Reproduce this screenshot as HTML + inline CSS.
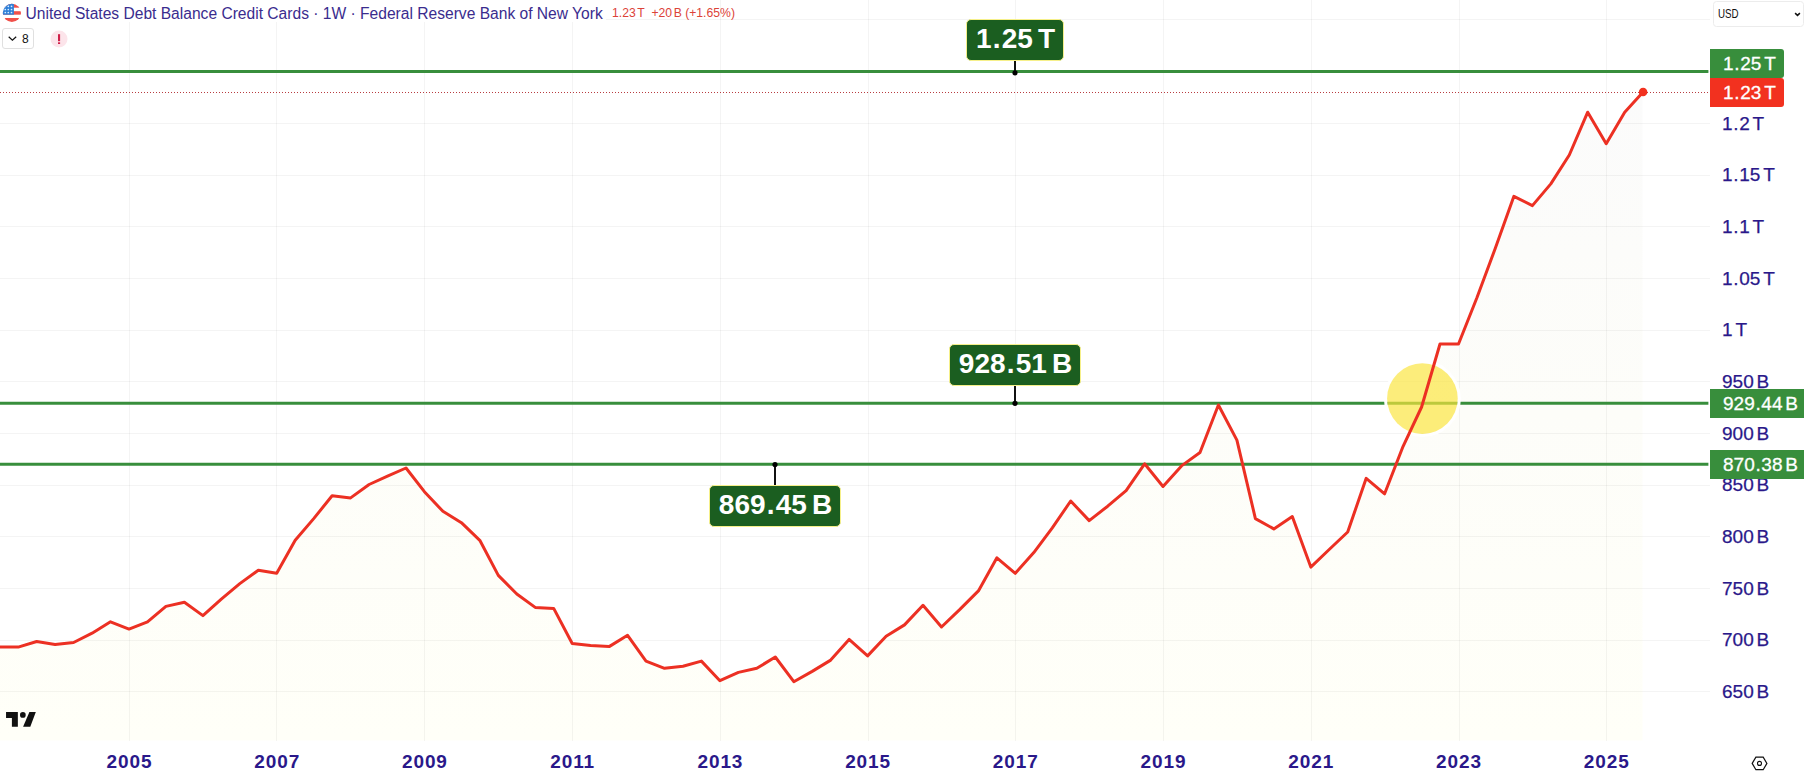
<!DOCTYPE html>
<html><head><meta charset="utf-8"><title>chart</title>
<style>
html,body{margin:0;padding:0;background:#fff;}
body{width:1804px;height:779px;position:relative;overflow:hidden;font-family:"Liberation Sans",sans-serif;}
#chart{position:absolute;left:0;top:0;}
.yl{position:absolute;left:1722px;height:22px;line-height:22px;font-size:19px;-webkit-text-stroke:0.25px #2a188a;color:#2a188a;white-space:nowrap;}
.xl{position:absolute;top:750.8px;width:80px;text-align:center;height:22px;line-height:22px;font-size:19px;font-weight:bold;color:#2a188a;letter-spacing:0.9px;}
.pl{position:absolute;left:1710px;color:#fff;font-size:19px;-webkit-text-stroke:0.3px #fff;white-space:nowrap;box-sizing:border-box;padding-left:13px;}
.tag{position:absolute;background:#1b5e20;border:1.2px solid #f6f08a;border-radius:5px;color:#fff;font-weight:bold;font-size:28px;line-height:38.7px;text-align:center;padding-left:1px;box-sizing:border-box;white-space:nowrap;}
#title{position:absolute;left:25.5px;top:4px;height:20px;line-height:20px;font-size:15.6px;color:#3a2c8e;white-space:nowrap;}
#vals{position:absolute;left:612px;top:4px;height:18px;line-height:18px;font-size:12.2px;color:#dc4238;white-space:nowrap;}
</style></head><body>
<svg id="chart" width="1804" height="779" viewBox="0 0 1804 779">
<defs>
<linearGradient id="ag" x1="0" y1="88" x2="0" y2="740" gradientUnits="userSpaceOnUse">
<stop offset="0" stop-color="#fbfbfb"/><stop offset="0.5" stop-color="#fdfdf9"/><stop offset="1" stop-color="#fffff8"/>
</linearGradient>
<clipPath id="flagc"><circle cx="11.9" cy="12.9" r="9.1"/></clipPath>
</defs>
<path d="M-18.7,740.5 L-18.7,651.8 L-0.2,647.1 L18.2,647.1 L36.7,641.5 L55.1,644.6 L73.6,642.5 L92.1,633.2 L110.5,621.8 L129.0,629.1 L147.5,621.8 L165.9,606.4 L184.4,602.2 L202.9,615.6 L221.3,599.1 L239.8,583.6 L258.3,570.2 L276.7,573.3 L295.2,540.3 L313.7,518.6 L332.1,495.8 L350.6,497.9 L369.1,484.5 L387.5,476.2 L406.0,468.0 L424.4,491.7 L442.9,511.3 L461.4,522.7 L479.8,540.3 L498.3,575.4 L516.8,594.0 L535.2,607.4 L553.7,608.4 L572.2,643.5 L590.6,645.6 L609.1,646.6 L627.6,635.3 L646.0,661.1 L664.5,668.3 L683.0,666.3 L701.4,661.1 L719.9,680.7 L738.4,672.4 L756.8,668.3 L775.3,657.0 L793.8,681.7 L812.2,671.4 L830.7,660.1 L849.1,639.4 L867.6,655.9 L886.1,636.3 L904.5,624.9 L923.0,605.3 L941.5,627.0 L959.9,609.4 L978.4,590.9 L996.9,557.8 L1015.3,573.3 L1033.8,552.6 L1052.3,527.9 L1070.7,501.0 L1089.2,520.6 L1107.7,506.2 L1126.1,490.7 L1144.6,463.8 L1163.0,486.5 L1181.5,465.9 L1200.0,452.5 L1218.4,405.0 L1236.9,440.1 L1255.4,518.6 L1273.8,528.9 L1292.3,516.5 L1310.8,567.1 L1329.2,549.5 L1347.7,532.0 L1366.2,478.3 L1384.6,493.8 L1403.1,446.3 L1421.6,407.0 L1440.0,344.0 L1458.5,344.0 L1477.0,297.5 L1495.4,248.0 L1513.9,196.3 L1532.4,205.6 L1550.8,183.9 L1569.3,155.0 L1587.7,112.2 L1606.2,143.7 L1624.7,112.2 L1643.1,92.0 L1642.5,92.0 L1642.5,740.5 Z" fill="url(#ag)"/>
<g stroke="#000" stroke-opacity="0.045" stroke-width="1" shape-rendering="crispEdges"><line x1="0" x2="1710" y1="19.5" y2="19.5"/><line x1="0" x2="1710" y1="71.5" y2="71.5"/><line x1="0" x2="1710" y1="123.5" y2="123.5"/><line x1="0" x2="1710" y1="175.5" y2="175.5"/><line x1="0" x2="1710" y1="226.5" y2="226.5"/><line x1="0" x2="1710" y1="278.5" y2="278.5"/><line x1="0" x2="1710" y1="330.5" y2="330.5"/><line x1="0" x2="1710" y1="381.5" y2="381.5"/><line x1="0" x2="1710" y1="433.5" y2="433.5"/><line x1="0" x2="1710" y1="485.5" y2="485.5"/><line x1="0" x2="1710" y1="536.5" y2="536.5"/><line x1="0" x2="1710" y1="588.5" y2="588.5"/><line x1="0" x2="1710" y1="640.5" y2="640.5"/><line x1="0" x2="1710" y1="691.5" y2="691.5"/><line y1="0" y2="740.5" x1="129.5" x2="129.5"/><line y1="0" y2="740.5" x1="276.5" x2="276.5"/><line y1="0" y2="740.5" x1="424.5" x2="424.5"/><line y1="0" y2="740.5" x1="572.5" x2="572.5"/><line y1="0" y2="740.5" x1="720.5" x2="720.5"/><line y1="0" y2="740.5" x1="868.5" x2="868.5"/><line y1="0" y2="740.5" x1="1015.5" x2="1015.5"/><line y1="0" y2="740.5" x1="1163.5" x2="1163.5"/><line y1="0" y2="740.5" x1="1311.5" x2="1311.5"/><line y1="0" y2="740.5" x1="1459.5" x2="1459.5"/><line y1="0" y2="740.5" x1="1606.5" x2="1606.5"/></g>
<!-- horizontal green lines -->
<g stroke="#388e3c" stroke-width="3">
<line x1="0" x2="1708.4" y1="71.5" y2="71.5"/>
<line x1="0" x2="1708.4" y1="403.3" y2="403.3"/>
<line x1="0" x2="1708.4" y1="464.3" y2="464.3"/>
</g>
<!-- yellow circle -->
<circle cx="1422.4" cy="398.6" r="36.9" fill="none" stroke="#ffffff" stroke-width="3.2"/>
<circle cx="1422.4" cy="398.6" r="35.3" fill="#fbe43c" fill-opacity="0.68"/>
<!-- last price dotted line -->
<line x1="0" x2="1709" y1="92.5" y2="92.5" stroke="#b83c40" stroke-width="1" stroke-dasharray="1 2" shape-rendering="crispEdges"/>
<!-- series -->
<polyline points="-18.7,651.8 -0.2,647.1 18.2,647.1 36.7,641.5 55.1,644.6 73.6,642.5 92.1,633.2 110.5,621.8 129.0,629.1 147.5,621.8 165.9,606.4 184.4,602.2 202.9,615.6 221.3,599.1 239.8,583.6 258.3,570.2 276.7,573.3 295.2,540.3 313.7,518.6 332.1,495.8 350.6,497.9 369.1,484.5 387.5,476.2 406.0,468.0 424.4,491.7 442.9,511.3 461.4,522.7 479.8,540.3 498.3,575.4 516.8,594.0 535.2,607.4 553.7,608.4 572.2,643.5 590.6,645.6 609.1,646.6 627.6,635.3 646.0,661.1 664.5,668.3 683.0,666.3 701.4,661.1 719.9,680.7 738.4,672.4 756.8,668.3 775.3,657.0 793.8,681.7 812.2,671.4 830.7,660.1 849.1,639.4 867.6,655.9 886.1,636.3 904.5,624.9 923.0,605.3 941.5,627.0 959.9,609.4 978.4,590.9 996.9,557.8 1015.3,573.3 1033.8,552.6 1052.3,527.9 1070.7,501.0 1089.2,520.6 1107.7,506.2 1126.1,490.7 1144.6,463.8 1163.0,486.5 1181.5,465.9 1200.0,452.5 1218.4,405.0 1236.9,440.1 1255.4,518.6 1273.8,528.9 1292.3,516.5 1310.8,567.1 1329.2,549.5 1347.7,532.0 1366.2,478.3 1384.6,493.8 1403.1,446.3 1421.6,407.0 1440.0,344.0 1458.5,344.0 1477.0,297.5 1495.4,248.0 1513.9,196.3 1532.4,205.6 1550.8,183.9 1569.3,155.0 1587.7,112.2 1606.2,143.7 1624.7,112.2 1643.1,92.0" fill="none" stroke="#ec3023" stroke-width="3" stroke-linejoin="round" stroke-linecap="round"/>
<circle cx="1643.1" cy="92.0" r="4.3" fill="#f2311f"/>
<!-- callout stems -->
<g stroke="#111" stroke-width="2"><line x1="1015" x2="1015" y1="60" y2="72"/><line x1="1015" x2="1015" y1="385" y2="403"/><line x1="775" x2="775" y1="464" y2="486"/></g>
<g fill="#000"><circle cx="1015" cy="72.8" r="2.6"/><circle cx="1015" cy="403.3" r="2.6"/><circle cx="775" cy="464.6" r="2.6"/></g>
<rect x="0" y="0" width="606" height="22" fill="#fff"/>
<!-- flag -->
<g clip-path="url(#flagc)">
<rect x="2" y="3" width="20" height="20" fill="#fff"/>
<rect x="2" y="3" width="20" height="4.7" fill="#f0504a"/><rect x="2" y="11.2" width="20" height="3.5" fill="#f0504a"/>
<rect x="2" y="18" width="20" height="5" fill="#f0504a"/>
<rect x="2" y="3" width="11.9" height="11.7" fill="#2f80d8"/>
<g fill="#d9ecff"><circle cx="5.3" cy="6.3" r="0.85"/><circle cx="8.3" cy="6.3" r="0.85"/><circle cx="11.5" cy="6.3" r="0.85"/><circle cx="5.3" cy="9.5" r="0.85"/><circle cx="8.3" cy="9.5" r="0.85"/><circle cx="11.5" cy="9.5" r="0.85"/><circle cx="5.3" cy="12.5" r="0.85"/><circle cx="8.3" cy="12.5" r="0.85"/><circle cx="11.5" cy="12.5" r="0.85"/></g>
</g>
<!-- collapse box -->
<rect x="2.5" y="28.5" width="31" height="20" rx="2.5" fill="#fff" stroke="#e0e0e0"/>
<path d="M8.7 36.8 L12.4 40.2 L16.2 36.8" fill="none" stroke="#111" stroke-width="1.2"/>
<!-- warning -->
<circle cx="59" cy="39" r="8.5" fill="#fce4ea"/>
<rect x="58" y="34.2" width="2.1" height="7" fill="#cf2049"/><rect x="58" y="42.3" width="2.1" height="1.7" fill="#cf2049"/>
<!-- USD box -->
<rect x="1713.5" y="1.5" width="90" height="25" rx="3" fill="#fff" stroke="#ececec"/>
<path d="M1795.1 13.1 L1797.5 15.4 L1799.9 13.1" fill="none" stroke="#111" stroke-width="1.5"/>
<!-- TV logo -->
<g fill="#111"><path d="M6.05 712.1 H17.85 V726.8 H11.9 V717.9 H6.05Z"/><circle cx="22.85" cy="714.95" r="2.85"/><path d="M29.4 712.1 H35.8 L30.3 726.8 H23.1Z"/></g>
<!-- settings hex -->
<path d="M1752.2 763.4 L1755.9 757.1 H1763.2 L1766.9 763.4 L1763.2 769.7 H1755.9 Z" fill="none" stroke="#111" stroke-width="1.2"/>
<circle cx="1759.5" cy="763.4" r="2" fill="none" stroke="#111" stroke-width="1.1"/>
</svg>
<div id="title">United States Debt Balance Credit Cards · 1W · Federal Reserve Bank of New York</div>
<div id="vals">1.23<span style="margin-left:1.5px">T</span>&nbsp; +20<span style="margin-left:1.5px">B</span> (+1.65%)</div>
<div style="position:absolute;left:22px;top:30px;font-size:12px;line-height:19px;color:#111;">8</div>
<div style="position:absolute;left:1717.5px;top:4.5px;font-size:13px;line-height:18px;color:#111;transform:scaleX(0.75);transform-origin:0 0;">USD</div>
<div class="yl" style="top:680.9px">650<span style="margin-left:2.8px">B</span></div><div class="yl" style="top:629.2px">700<span style="margin-left:2.8px">B</span></div><div class="yl" style="top:577.5px">750<span style="margin-left:2.8px">B</span></div><div class="yl" style="top:525.9px">800<span style="margin-left:2.8px">B</span></div><div class="yl" style="top:474.2px">850<span style="margin-left:2.8px">B</span></div><div class="yl" style="top:422.5px">900<span style="margin-left:2.8px">B</span></div><div class="yl" style="top:370.9px">950<span style="margin-left:2.8px">B</span></div><div class="yl" style="top:319.2px">1<span style="margin-left:2.8px">T</span></div><div class="yl" style="top:267.5px">1<span style="padding:0 0.7px">.</span>05<span style="margin-left:2.8px">T</span></div><div class="yl" style="top:215.8px">1<span style="padding:0 0.7px">.</span>1<span style="margin-left:2.8px">T</span></div><div class="yl" style="top:164.2px">1<span style="padding:0 0.7px">.</span>15<span style="margin-left:2.8px">T</span></div><div class="yl" style="top:112.5px">1<span style="padding:0 0.7px">.</span>2<span style="margin-left:2.8px">T</span></div>
<div class="xl" style="left:89.5px">2005</div><div class="xl" style="left:237.2px">2007</div><div class="xl" style="left:384.9px">2009</div><div class="xl" style="left:532.7px">2011</div><div class="xl" style="left:680.4px">2013</div><div class="xl" style="left:828.1px">2015</div><div class="xl" style="left:975.8px">2017</div><div class="xl" style="left:1123.5px">2019</div><div class="xl" style="left:1271.3px">2021</div><div class="xl" style="left:1419.0px">2023</div><div class="xl" style="left:1566.7px">2025</div>
<div class="pl" style="top:49px;height:29px;line-height:30px;width:74px;background:#388e3c;border-radius:0 3px 3px 0;">1<span style="padding:0 0.7px">.</span>25<span style="margin-left:2.8px">T</span></div>
<div class="pl" style="top:78px;height:29px;line-height:30px;width:74px;background:#f2311f;border-radius:0 3px 3px 0;">1<span style="padding:0 0.7px">.</span>23<span style="margin-left:2.8px">T</span></div>
<div class="pl" style="top:389px;height:29px;line-height:30px;width:94px;background:#388e3c;">929<span style="padding:0 0.7px">.</span>44<span style="margin-left:2.8px">B</span></div>
<div class="pl" style="top:450px;height:29px;line-height:30px;width:94px;background:#388e3c;">870<span style="padding:0 0.7px">.</span>38<span style="margin-left:2.8px">B</span></div>
<div class="tag" style="left:966.3px;top:19.3px;width:97.4px;height:41.4px;">1<span style="padding:0 1.2px">.</span>25<span style="margin-left:5px">T</span></div>
<div class="tag" style="left:949.3px;top:344.3px;width:131.4px;height:41.4px;">928<span style="padding:0 1.2px">.</span>51<span style="margin-left:5px">B</span></div>
<div class="tag" style="left:709.3px;top:485.3px;width:131.4px;height:41.4px;">869<span style="padding:0 1.2px">.</span>45<span style="margin-left:5px">B</span></div>
</body></html>
